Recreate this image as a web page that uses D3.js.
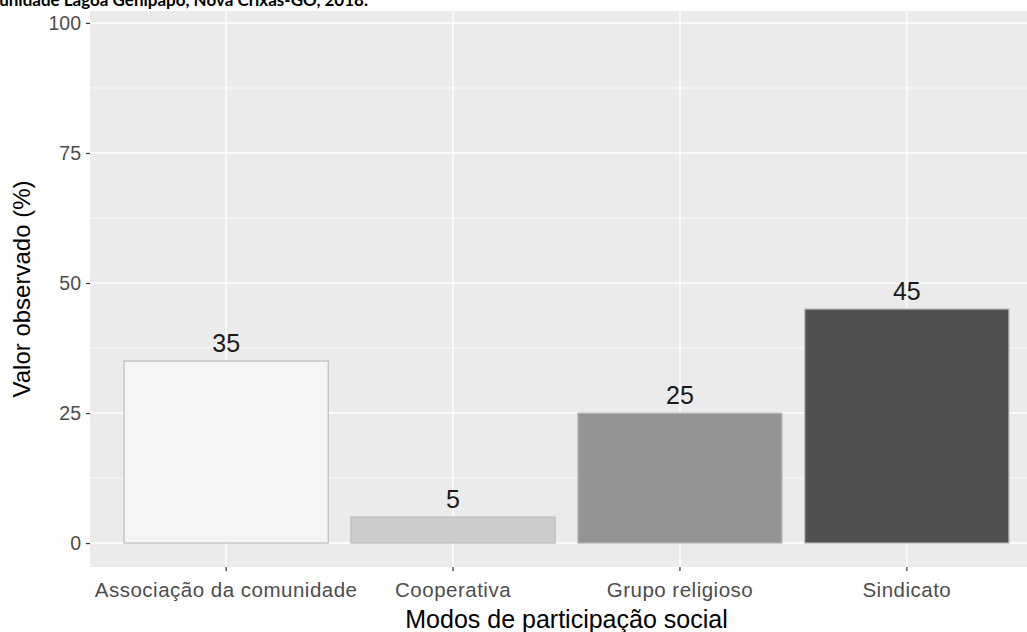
<!DOCTYPE html>
<html>
<head>
<meta charset="utf-8">
<script src="https://cdn.jsdelivr.net/npm/d3@7"></script>
<style>
  body { margin: 0; background: #fff; }
  text { font-family: "Liberation Sans", Arial, sans-serif; }
</style>
</head>
<body>
<svg width="1027" height="632"></svg>
<script>
var categories = ["Associação da comunidade", "Cooperativa", "Grupo religioso", "Sindicato"];
var values = [35, 5, 25, 45];
var fills = ["#F5F5F5", "#CCCCCC", "#949494", "#515151"];
var yTicks = [0, 25, 50, 75, 100];
var yMinor = [12.5, 37.5, 62.5, 87.5];

var svg = d3.select("svg");
var panel = { left: 90, right: 1043, top: 11, bottom: 567 };

var x = d3.scaleBand()
    .domain(categories)
    .range([panel.left, panel.right])
    .paddingInner(0.1)
    .paddingOuter(0.15);
var y = d3.scaleLinear()
    .domain([-4.6, 102.3])
    .range([panel.bottom, panel.top]);

// panel background
svg.append("rect")
    .attr("x", panel.left)
    .attr("y", panel.top)
    .attr("width", panel.right - panel.left)
    .attr("height", panel.bottom - panel.top)
    .style("fill", "#EBEBEB");

// grid
yMinor.forEach(function(v) {
    svg.append("line")
       .attr("x1", panel.left).attr("x2", panel.right)
       .attr("y1", y(v)).attr("y2", y(v))
       .style("stroke", "#fff").style("stroke-width", 0.7);
});
yTicks.forEach(function(v) {
    svg.append("line")
       .attr("x1", panel.left).attr("x2", panel.right)
       .attr("y1", y(v)).attr("y2", y(v))
       .style("stroke", "#fff").style("stroke-width", 1.4);
});
categories.forEach(function(c) {
    var cx = x(c) + x.bandwidth() / 2;
    svg.append("line")
       .attr("x1", cx).attr("x2", cx)
       .attr("y1", panel.top).attr("y2", panel.bottom)
       .style("stroke", "#fff").style("stroke-width", 1.4);
});

// bars
svg.selectAll(".bar")
    .data(categories)
    .enter().append("rect")
    .attr("class", "bar")
    .attr("x", d => x(d))
    .attr("width", x.bandwidth())
    .attr("y", (d, i) => y(values[i]))
    .attr("height", (d, i) => y(0) - y(values[i]))
    .style("fill", (d, i) => fills[i])
    .style("stroke", "#BDBDBD")
    .style("stroke-width", 1.2);

// value labels
svg.selectAll(".val")
    .data(categories)
    .enter().append("text")
    .attr("class", "val")
    .attr("x", d => x(d) + x.bandwidth() / 2)
    .attr("y", (d, i) => y(values[i]) - 9)
    .attr("text-anchor", "middle")
    .style("font-size", "25px")
    .style("fill", "#1A1A1A")
    .text((d, i) => values[i]);

// y axis
var yAxis = svg.append("g")
    .attr("transform", "translate(" + panel.left + ",0)")
    .call(d3.axisLeft(y).tickValues(yTicks).tickSize(4).tickPadding(5));
yAxis.select(".domain").remove();
yAxis.selectAll("line").style("stroke", "#333").style("stroke-width", 1.2);
yAxis.selectAll("text")
    .style("font-family", "Liberation Sans, Arial, sans-serif")
    .style("font-size", "19.5px")
    .style("fill", "#4D4D4D");

// x axis
var xAxis = svg.append("g")
    .attr("transform", "translate(0," + panel.bottom + ")")
    .call(d3.axisBottom(x).tickSize(4).tickPadding(11));
xAxis.select(".domain").remove();
xAxis.selectAll("line").style("stroke", "#333").style("stroke-width", 1.2);
xAxis.selectAll("text")
    .style("font-family", "Liberation Sans, Arial, sans-serif")
    .style("font-size", "20.5px")
    .style("letter-spacing", "0.5px")
    .style("fill", "#4D4D4D");

// axis titles
svg.append("text")
    .attr("x", (panel.left + panel.right) / 2)
    .attr("y", 628)
    .attr("text-anchor", "middle")
    .style("font-size", "25px")
    .style("fill", "#000")
    .text("Modos de participação social");

svg.append("text")
    .attr("transform", "translate(30," + ((panel.top + panel.bottom) / 2) + ") rotate(-90)")
    .attr("text-anchor", "middle")
    .style("font-size", "24px")
    .style("fill", "#000")
    .text("Valor observado (%)");

// title (cut at the top left as in the source image)
svg.append("text")
    .attr("x", 368)
    .attr("y", 6)
    .attr("text-anchor", "end")
    .style("font-family", "Lato, sans-serif")
    .style("font-weight", "bold")
    .style("font-size", "17px")
    .style("fill", "#000")
    .text("Comunidade Lagoa Genipapo, Nova Crixás-GO, 2018.");
</script>
</body>
</html>
